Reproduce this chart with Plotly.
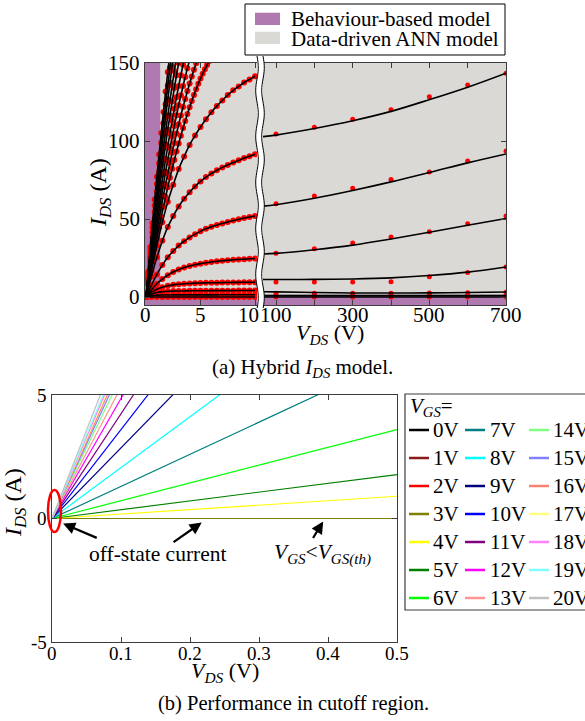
import math
import plotly.graph_objects as go

# ---------------- figure geometry (pixels) ----------------
W, H = 585, 721


def px(x):
    return x / W


def py(y):
    return 1 - y / H


SERIF = "Liberation Serif, Times New Roman, serif"
PURPLE = "#B07AB0"
GREY = "#DAD9D5"
DOT = "#FF0000"
FRAME = "#3c3c3c"

# ---------------- (a) hybrid I_DS model: low-voltage part ----------------
vds_coarse = [0, 0.5, 1, 1.5, 2, 2.5, 3, 3.5, 4, 4.5, 5, 5.5, 6, 6.5, 7, 7.5,
              8, 8.5, 9, 9.5, 10]
vds_fine = [0, 0.2, 0.4, 0.6, 0.8, 1.0, 1.2, 1.4, 1.6, 1.8, 2.0, 2.2, 2.4, 2.6,
            2.8, 3.0, 3.2, 3.4, 3.6, 3.8, 4.0, 4.2, 4.4, 4.6, 4.8, 5.0, 5.2,
            5.4, 5.6, 5.8]

ids_off = [0.0] * 21
ids_sat1 = [0, 0.9, 1.2, 1.3, 1.3, 1.4, 1.4, 1.4, 1.4, 1.4, 1.4, 1.4, 1.4, 1.4,
            1.5, 1.5, 1.5, 1.5, 1.5, 1.5, 1.5]
ids_sat4 = [0, 1.8, 2.9, 3.4, 3.7, 3.8, 3.9, 3.9, 4.0, 4.0, 4.0, 4.0, 4.1, 4.1,
            4.1, 4.1, 4.1, 4.2, 4.2, 4.2, 4.2]
ids_sat9 = [0, 3.0, 5.0, 6.3, 7.2, 7.8, 8.2, 8.5, 8.7, 8.9, 9.0, 9.1, 9.2, 9.2,
            9.3, 9.3, 9.4, 9.4, 9.5, 9.5, 9.5]
ids_sat25 = [0, 4.5, 8.5, 11.5, 14.0, 16.0, 17.6, 18.9, 19.9, 20.7, 21.4, 22.0,
             22.5, 22.9, 23.3, 23.6, 23.9, 24.1, 24.3, 24.5, 24.7]
ids_sat52 = [0, 7.5, 14.5, 20.5, 25.5, 29.5, 33.0, 35.8, 38.2, 40.3, 42.1, 43.7,
             45.0, 46.2, 47.2, 48.1, 49.0, 49.8, 50.6, 51.3, 52.0]
ids_sat91 = [0, 13.2, 25.5, 36.0, 44.9, 51.9, 58.0, 63.0, 67.2, 70.9, 74.1,
             76.9, 79.2, 81.3, 83.1, 84.7, 86.2, 87.6, 89.1, 90.3, 91.5]
ids_sat141 = [0, 17, 33, 48, 61, 72, 82, 90, 97.5, 103.5, 109, 114, 118.5,
              122.5, 126, 129.5, 132.5, 135, 137.5, 139.5, 141.5]
coarse_curves = [ids_off, ids_sat1, ids_sat4, ids_sat9, ids_sat25, ids_sat52,
                 ids_sat91, ids_sat141]

ids_steep1 = [0, 7.9, 15.6, 23.1, 30.5, 37.6, 44.5, 51.3, 57.9, 64.2, 70.4,
              76.4, 82.2, 87.8, 93.2, 98.4, 103.4, 108.3, 112.9, 117.3, 121.6,
              125.7, 129.5, 133.2, 136.7, 140.0, 143.1, 146.0, 148.7, 151.3]
ids_steep2 = [0, 8.9, 17.6, 26.0, 34.3, 42.3, 50.1, 57.7, 65.1, 72.3, 79.2,
              85.9, 92.4, 98.7, 104.8, 110.7, 116.4, 121.8, 127.0, 132.0, 136.8,
              141.4, 145.7, 149.9, 153.8]
ids_steep3 = [0, 9.9, 19.5, 28.9, 38.1, 47.0, 55.7, 64.1, 72.3, 80.3, 88.0,
              95.5, 102.7, 109.7, 116.5, 123.0, 129.3, 135.3, 141.1, 146.7,
              152.0]
ids_steep4 = [0, 10.9, 21.5, 31.8, 41.9, 51.7, 61.2, 70.5, 79.6, 88.3, 96.8,
              105.0, 113.0, 120.7, 128.1, 135.3, 142.2, 148.9, 155.2]
ids_steep5 = [0, 12.1, 23.8, 35.3, 46.5, 57.3, 67.9, 78.2, 88.2, 97.9, 107.4,
              116.5, 125.3, 133.9, 142.1, 150.1]
ids_steep6 = [0, 13.0, 25.8, 38.2, 50.3, 62.0, 73.5, 84.6, 95.5, 106.0, 116.2,
              126.0, 135.6, 144.8, 153.8]
ids_steep7 = [0, 14.2, 28.1, 41.6, 54.8, 67.7, 80.2, 92.3, 104.1, 115.6, 126.7,
              137.5, 147.9, 158.0]
ids_steep8 = [0, 15.2, 30.1, 44.5, 58.6, 72.4, 85.7, 98.7, 111.4, 123.6, 135.5,
              147.0, 158.2]
ids_steep9 = [0, 16.2, 32.0, 47.4, 62.5, 77.1, 91.3, 105.2, 118.6, 131.7, 144.3,
              156.6]
fine_curves = [ids_steep1, ids_steep2, ids_steep3, ids_steep4, ids_steep5,
               ids_steep6, ids_steep7, ids_steep8, ids_steep9]

# ---------------- (a) high-voltage part ----------------
vds_meas_hv = [100, 200, 300, 400, 500, 600, 700]
vds_fit_hv = [66, 100, 200, 300, 400, 500, 600, 700]
meas_hv = [
    [104.5, 108.8, 114.0, 120.0, 128.4, 135.9, 143.4],
    [59.8, 64.7, 69.7, 75.4, 80.1, 87.2, 93.6],
    [28.0, 31.0, 34.6, 38.5, 41.9, 47.0, 51.9],
    [9.6, 9.6, 9.6, 9.8, 13.0, 15.8, 19.2],
    [2.4, 2.4, 2.5, 2.5, 2.6, 2.7, 3.0],
    [1.0, 1.0, 1.0, 1.0, 1.0, 1.0, 1.1],
    [0.0, 0.0, 0.0, 0.0, 0.0, 0.0, 0.0],
]
fit_hv = [
    [102.8, 103.8, 108.0, 113.0, 119.0, 126.5, 134.5, 143.5],
    [58.3, 59.2, 63.3, 68.3, 73.8, 79.8, 86.0, 91.7],
    [27.6, 28.0, 30.3, 33.3, 37.2, 41.5, 46.0, 50.3],
    [11.2, 11.2, 11.3, 11.6, 12.3, 13.8, 16.0, 19.3],
    [3.4, 3.3, 2.9, 2.6, 2.6, 2.7, 2.9, 3.2],
    [0.9, 0.9, 0.9, 0.9, 0.9, 0.9, 0.9, 1.0],
    [0.0, 0.0, 0.0, 0.0, 0.0, 0.0, 0.0, 0.0],
]

# operating-region boundaries of the hybrid model
behav_vds_max = 1.3
behav_ids_max = 1.5

# tick values / labels
ticks_a_lv = [0, 5, 10]
ticks_a_hv = [100, 200, 300, 400, 500, 600, 700]
labels_a_hv = ["100", "", "300", "", "500", "", "700"]
ticks_a_y = [0, 50, 100, 150]
ticks_b_x = [0, 0.1, 0.2, 0.3, 0.4, 0.5]
labels_b_x = ["0", "0.1", "0.2", "0.3", "0.4", "0.5"]
ticks_b_y = [-5, 0, 5]

# ---------------- (b) cutoff region ----------------
vgs_labels = ["0V", "1V", "2V", "3V", "4V", "5V", "6V", "7V", "8V", "9V", "10V",
              "11V", "12V", "13V", "14V", "15V", "16V", "17V", "18V", "19V",
              "20V"]
vgs_colors = ["#000000", "#8B1A1A", "#FF0000", "#808000", "#FFFF00", "#008000",
              "#00FF00", "#008080", "#00FFFF", "#000080", "#0000FF", "#800080",
              "#FF00FF", "#FF9494", "#80FF80", "#8080FF", "#FA8072", "#FFFF80",
              "#FF80FF", "#80FFFF", "#C0C0C0"]
vds_cut = [0, 0.5]
ids_cut_end = [0, 0, 0, 0, 0.9, 1.78, 3.6, 6.5, 10.3, 14.3, 18.0, 21.2, 24.3,
               26.6, 28.7, 30.1, 31.2, 32.1, 32.9, 33.8, 35.7]

fig = go.Figure()

# (a) low-voltage measured points, then model curves on top
for ids in coarse_curves:
    fig.add_trace(go.Scatter(x=vds_coarse, y=ids, mode="markers",
                             marker=dict(color=DOT, size=6),
                             xaxis="x", yaxis="y", showlegend=False))
for ids in fine_curves:
    fig.add_trace(go.Scatter(x=vds_fine[:len(ids)], y=ids, mode="markers",
                             marker=dict(color=DOT, size=6),
                             xaxis="x", yaxis="y", showlegend=False))
for ids in coarse_curves:
    fig.add_trace(go.Scatter(x=vds_coarse, y=ids, mode="lines",
                             line=dict(color="black", width=1.6, shape="spline"),
                             xaxis="x", yaxis="y", showlegend=False))
for ids in fine_curves:
    fig.add_trace(go.Scatter(x=vds_fine[:len(ids)], y=ids, mode="lines",
                             line=dict(color="black", width=1.6, shape="spline"),
                             xaxis="x", yaxis="y", showlegend=False))

# (a) high-voltage measured points and ANN curves
for ids in meas_hv:
    fig.add_trace(go.Scatter(x=vds_meas_hv, y=ids, mode="markers",
                             marker=dict(color=DOT, size=5),
                             xaxis="x2", yaxis="y2", showlegend=False))
for ids in fit_hv:
    fig.add_trace(go.Scatter(x=vds_fit_hv, y=ids, mode="lines",
                             line=dict(color="black", width=1.6, shape="spline"),
                             xaxis="x2", yaxis="y2", showlegend=False))

# (b) cutoff-region curves
for lab, col, iend in zip(vgs_labels, vgs_colors, ids_cut_end):
    fig.add_trace(go.Scatter(x=vds_cut, y=[0, iend], mode="lines",
                             line=dict(color=col, width=1.2), name=lab,
                             xaxis="x3", yaxis="y3", showlegend=False))

shapes = []
annotations = []

# panel backgrounds and model regions
for xr, yr in (("x", "y"), ("x2", "y2")):
    shapes.append(dict(type="rect", xref=xr + " domain", yref=yr + " domain",
                       x0=0, x1=1, y0=0, y1=1, fillcolor=GREY,
                       line_width=0, layer="below"))
shapes.append(dict(type="rect", xref="x", yref="y domain", x0=-1,
                   x1=behav_vds_max, y0=0, y1=1, fillcolor=PURPLE,
                   line_width=0, layer="below"))
shapes.append(dict(type="rect", xref="x", yref="y", x0=-1, x1=11, y0=-10,
                   y1=behav_ids_max, fillcolor=PURPLE, line_width=0,
                   layer="below"))
shapes.append(dict(type="rect", xref="x2", yref="y2", x0=0, x1=800, y0=-10,
                   y1=behav_ids_max, fillcolor=PURPLE, line_width=0,
                   layer="below"))


# axis break between the two V_DS scales
def wave(xc, y_top, y_bot, amp=1.3, period=46, n=80):
    pts = []
    for i in range(n + 1):
        y = y_top + (y_bot - y_top) * i / n
        pts.append((xc + amp * math.sin(2 * math.pi * (y - y_top) / period), y))
    return pts


def path_of(pts, close=False):
    s = "M " + " L ".join(f"{px(x):.5f},{py(y):.5f}" for x, y in pts)
    return s + (" Z" if close else "")


gap_l = wave(257, 56, 308)
gap_r = wave(263, 56, 308)
shapes.append(dict(type="path", xref="paper", yref="paper",
                   path=path_of(gap_l + gap_r[::-1], close=True),
                   fillcolor="white", line_width=0, layer="above"))
for pts in (gap_l, gap_r):
    shapes.append(dict(type="path", xref="paper", yref="paper",
                       path=path_of(pts), line=dict(color="black", width=1),
                       layer="above"))

# legend of (a)
shapes.append(dict(type="rect", xref="paper", yref="paper", x0=px(245),
                   x1=px(505), y0=py(55), y1=py(4), fillcolor="white",
                   line=dict(color="black", width=1)))
for (ytop, ybot, col, txt, yc) in ((12.7, 25, PURPLE, "Behaviour-based model", 19),
                                   (31.7, 44, GREY, "Data-driven ANN model", 39)):
    shapes.append(dict(type="rect", xref="paper", yref="paper", x0=px(255),
                       x1=px(280), y0=py(ybot), y1=py(ytop), fillcolor=col,
                       line_width=0))
    annotations.append(dict(x=px(289), y=py(yc), xref="paper", yref="paper",
                            text=txt, showarrow=False, xanchor="left",
                            yanchor="middle",
                            font=dict(family=SERIF, size=21, color="black")))

# off-state marker in (b)
shapes.append(dict(type="circle", xref="paper", yref="paper", x0=px(48),
                   x1=px(61), y0=py(532), y1=py(490),
                   line=dict(color="#FF0000", width=2.5)))

# legend of (b)
shapes.append(dict(type="rect", xref="paper", yref="paper", x0=px(405),
                   x1=px(600), y0=py(610), y1=py(394), fillcolor="white",
                   line=dict(color=FRAME, width=1.2)))
annotations.append(dict(x=px(408), y=py(407), xref="paper", yref="paper",
                        text="<i>V</i><sub><i>GS</i></sub>=", showarrow=False,
                        xanchor="left", yanchor="middle",
                        font=dict(family=SERIF, size=21, color="black")))
col_x = [(409, 431), (465, 488), (529, 551)]
row_y = [430, 458, 486, 514, 542, 570, 598]
for i, (lab, col) in enumerate(zip(vgs_labels, vgs_colors)):
    c, r = divmod(i, 7)
    lx, tx = col_x[c]
    yy = row_y[r]
    shapes.append(dict(type="line", xref="paper", yref="paper", x0=px(lx),
                       x1=px(lx + 20), y0=py(yy), y1=py(yy),
                       line=dict(color=col, width=2.5)))
    annotations.append(dict(x=px(tx), y=py(yy), xref="paper", yref="paper",
                            text=lab, showarrow=False, xanchor="left",
                            yanchor="middle",
                            font=dict(family=SERIF, size=21, color="black")))

# axis titles and captions
ids_title = "<i>I</i><sub><i>DS</i></sub> (A)"
vds_title = "<i>V</i><sub><i>DS</i></sub> (V)"
for x, y, txt, size, ang in (
        (100, 193, ids_title, 24, -90),
        (330, 334, vds_title, 22, 0),
        (302, 368, "(a) Hybrid <i>I</i><sub><i>DS</i></sub> model.", 21, 0),
        (15, 503, ids_title, 24, -90),
        (225, 672, vds_title, 22, 0),
        (293, 703, "(b) Performance in cutoff region.", 20.5, 0)):
    annotations.append(dict(x=px(x), y=py(y), xref="paper", yref="paper",
                            text=txt, textangle=ang, showarrow=False,
                            xanchor="center", yanchor="middle",
                            font=dict(family=SERIF, size=size, color="black")))

# tick labels
tick_font_a = dict(family=SERIF, size=21, color="black")
tick_font_b = dict(family=SERIF, size=19, color="black")
for v in ticks_a_lv:
    annotations.append(dict(x=v, y=py(315), xref="x", yref="paper",
                            text=str(v), showarrow=False, xanchor="center",
                            yanchor="middle", font=tick_font_a,
                            xshift=-6.5 if v == 10 else 0))
for v, lab in zip(ticks_a_hv, labels_a_hv):
    if lab:
        annotations.append(dict(x=v, y=py(315), xref="x2", yref="paper",
                                text=lab, showarrow=False, xanchor="center",
                                yanchor="middle", font=tick_font_a))
for v in ticks_a_y:
    annotations.append(dict(x=px(142), y=v, xref="paper", yref="y",
                            text=str(v), showarrow=False, xanchor="right",
                            yanchor="middle", font=tick_font_a))
for v, lab in zip(ticks_b_x, labels_b_x):
    annotations.append(dict(x=v, y=py(653), xref="x3", yref="paper",
                            text=lab, showarrow=False, xanchor="center",
                            yanchor="middle", font=tick_font_b))
for v in ticks_b_y:
    annotations.append(dict(x=px(49), y=v, xref="paper", yref="y3",
                            text=str(v), showarrow=False, xanchor="right",
                            yanchor="middle", font=tick_font_b))

# call-outs in (b)
note_font = dict(family=SERIF, size=21.5, color="black")
annotations += [
    dict(x=0.154, y=-1.45, xref="x3", yref="y3", text="off-state current",
         showarrow=False, font=note_font),
    dict(x=0.392, y=-1.45, xref="x3", yref="y3",
         text="<i>V</i><sub><i>GS</i></sub>&lt;<i>V</i><sub><i>GS(th)</i></sub>",
         showarrow=False, font=note_font),
]
for hx, hy, tx, ty in ((0.016, -0.2, 0.067, -0.81),
                       (0.217, -0.16, 0.174, -1.0),
                       (0.393, -0.12, 0.377, -0.85)):
    annotations.append(dict(x=hx, y=hy, ax=tx, ay=ty, xref="x3", yref="y3",
                            axref="x3", ayref="y3", text="", showarrow=True,
                            arrowhead=2, arrowsize=1.1, arrowwidth=2.2,
                            arrowcolor="black"))

common = dict(showgrid=False, zeroline=False, showline=True, linecolor=FRAME,
              linewidth=1.2, ticks="inside", ticklen=5, tickcolor=FRAME,
              showticklabels=False)

fig.update_layout(
    width=W, height=H, autosize=False,
    margin=dict(l=0, r=0, t=0, b=0),
    paper_bgcolor="white", plot_bgcolor="white",
    showlegend=False,
    xaxis=dict(domain=[px(145), px(257)], range=[-0.09, 10.18], anchor="y",
               tickvals=ticks_a_lv, mirror="ticks", **common),
    yaxis=dict(domain=[py(305), py(63)], range=[-5.1, 150], anchor="x",
               tickvals=ticks_a_y, **common),
    xaxis2=dict(domain=[px(263), px(506)], range=[66, 700], anchor="y2",
                tickvals=ticks_a_hv, mirror="ticks", **common),
    yaxis2=dict(domain=[py(305), py(63)], range=[-5.1, 150], anchor="x2",
                side="right", tickvals=ticks_a_y, **common),
    xaxis3=dict(domain=[px(52), px(397)], range=[0, 0.5], anchor="y3",
                tickvals=ticks_b_x, mirror="ticks", **common),
    yaxis3=dict(domain=[py(642), py(395)], range=[-5, 5], anchor="x3",
                tickvals=ticks_b_y, mirror="ticks", **common),
    shapes=shapes,
    annotations=annotations,
)

fig.write_html("out.html", config={"displayModeBar": False})
